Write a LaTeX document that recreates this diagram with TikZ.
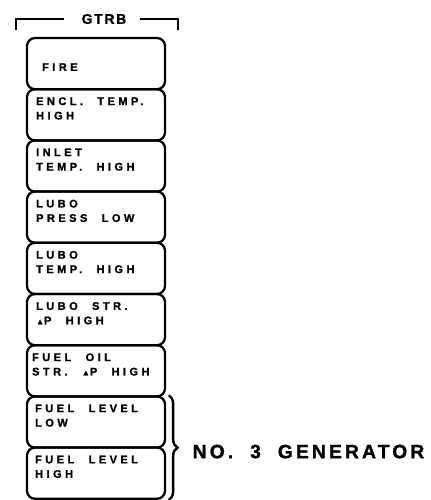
\documentclass[tikz,border=0pt]{standalone}
\usepackage{fontspec}
\setmainfont{Liberation Sans}
\newfontfamily\panelfont[LetterSpace=31, WordSpace=2.2,
                         BoldFeatures={FakeBold=1.2}]{Liberation Sans}
\newfontfamily\titlefont[LetterSpace=12, BoldFeatures={FakeBold=1}]{Liberation Sans}
\newfontfamily\genfont[LetterSpace=16, WordSpace=2,
                       BoldFeatures={FakeBold=1.2}]{Liberation Sans}
\usepackage{tikz}
\usetikzlibrary{positioning,decorations.pathreplacing}
\newcommand{\dpsym}{{\fontsize{6}{6}\selectfont ▲}}

\begin{document}
\begin{tikzpicture}[x=0.75pt, y=-0.75pt,
    alarmbox/.style={draw, line width=1.7pt, rounded corners=6pt,
                     minimum width=103.5pt, minimum height=38.4pt, inner sep=0pt},
    alarmtext/.style={font=\panelfont\bfseries\fontsize{8.3}{10.8}\selectfont,
                      align=left, inner sep=0pt},
    panelbar/.style={line width=1.3pt}]
    \useasboundingbox (0,0) rectangle (430,500);
    % panel title
    \node[font=\titlefont\bfseries\fontsize{10.5}{12}\selectfont, inner sep=0pt]
      (gtrb) at (104, 19) {GTRB};
    \draw[panelbar] ([xshift=-13pt]gtrb.west) -- ++(-48,0) -- ++(0,11);
    \draw[panelbar] ([xshift=10pt]gtrb.east) -- ++(38,0) -- ++(0,11);
    % alarm windows
    \foreach \i in {1,...,9}{
      \node[alarmbox] (b\i) at (96, 38+51.2*\i-25.6) {};
    }
    \node[alarmtext, anchor=west] (t1) at ([shift={(16,3.5)}]b1.west) {FIRE};
    \foreach \v/\i/\dx in {{ENCL. TEMP.\\HIGH}/2/10, {INLET\\TEMP. HIGH}/3/10,
                       {LUBO\\PRESS LOW}/4/10, {LUBO\\TEMP. HIGH}/5/10,
                       {LUBO STR.\\\dpsym P HIGH}/6/10, {FUEL OIL\\STR. \dpsym P HIGH}/7/6,
                       {FUEL LEVEL\\LOW}/8/9, {FUEL LEVEL\\HIGH}/9/9}{
      \node[alarmtext, anchor=north west] (t\i) at ([shift={(\dx,9)}]b\i.north west) {\v};
    }
    % generator group
    \coordinate (bt) at ([xshift=2pt]b8.north east);
    \coordinate (bb) at ([xshift=2pt]b9.south east);
    \draw[line width=1.8pt, decorate, decoration={brace, amplitude=6.5pt}]
      (bt) -- node[right=17pt, yshift=-3pt, inner sep=0pt,
                   font=\genfont\bfseries\fontsize{14.5}{16}\selectfont] (gen)
                   {NO. 3 GENERATOR} (bb);
  \end{tikzpicture}
\end{document}
